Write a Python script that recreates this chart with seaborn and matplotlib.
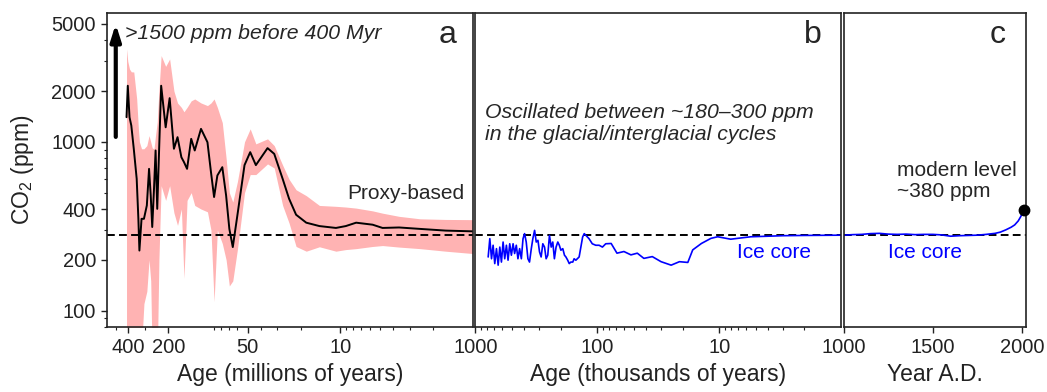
import numpy as np
import matplotlib
matplotlib.use('Agg')
import matplotlib.pyplot as plt
from matplotlib.ticker import LogLocator, NullFormatter, NullLocator
import seaborn as sns

sns.set_theme(style='ticks')
plt.rcParams['font.family'] = ['Liberation Sans', 'DejaVu Sans']
plt.rcParams['mathtext.default'] = 'regular'

# panel a: proxy-based CO2 (age in Myr), with uncertainty band
age_myr = [413, 404, 392, 380, 364, 346, 336, 330, 318, 305, 290, 279, 271, 264, 256,
           249, 242, 235, 226, 209, 195, 181, 170, 159, 152, 144, 134, 126, 113, 101,
           95, 90, 85, 78, 73, 69, 65, 60, 53, 48, 43.5, 35.5, 31.6, 27.3, 24.4,
           21.6, 18.1, 14.4, 10.8, 9.1, 7.6, 5.7, 4.8, 3.6, 2.5, 1.6, 1.0]
co2_proxy = [1400, 2150, 1400, 1250, 910, 604, 350, 227, 350, 350, 420, 692, 481, 313, 527,
             889, 401, 829, 2150, 1220, 1815, 910, 1066, 811, 759, 692, 1042, 889, 1194, 995,
             662, 471, 632, 708, 481, 305, 238, 367, 728, 869, 728, 918, 849, 604, 460,
             370, 332, 317, 309, 317, 332, 323, 309, 311, 305, 298, 295]
proxy_hi = [3550, 3000, 2700, 2600, 2595, 1800, 1200, 1000, 910, 910, 950, 1089, 1000, 920, 910,
            1100, 1309, 2000, 3245, 2800, 3097, 2000, 1700, 1600, 1507, 1600, 1750, 1795, 1700, 1640,
            1700, 1795, 1600, 1300, 800, 500, 440, 580, 1000, 1194, 973, 1042, 950, 728, 600,
            520, 480, 420, 415, 411, 405, 390, 378, 362, 350, 347, 346]
proxy_lo = [50, 50, 50, 50, 50, 50, 50, 50, 60, 110, 130, 200, 150, 50, 50,
            50, 50, 200, 550, 450, 550, 380, 320, 400, 155, 450, 500, 420, 400, 385,
            300, 113, 300, 250, 200, 140, 150, 230, 500, 640, 640, 740, 700, 420, 330,
            240, 225, 239, 225, 230, 233, 240, 243, 238, 233, 225, 218]

# panel b: ice core (age in kyr)
age_kyr = [786, 762, 738, 716, 694, 672, 651, 631, 612, 593, 575, 557, 540, 523, 507,
           491, 477, 462, 448, 434, 420, 407, 395, 383, 371, 360, 348, 338, 327, 317,
           307, 298, 289, 280, 271, 263, 255, 247, 239, 232, 225, 218, 211, 205, 199,
           192, 186, 181, 175, 170, 165, 159, 155, 150, 141, 132, 128, 124, 117, 110,
           103, 96.7, 90.8, 85.3, 77, 69, 60.5, 53, 47, 41.5, 35.4, 30, 24.8, 21.2, 18.1,
           16.5, 14, 11.7, 10.3, 8.05, 7.1, 5.5, 4, 3, 2, 1]
co2_ice_b = [208, 267, 203, 244, 190, 233, 186, 238, 194, 255, 203, 244, 199, 249, 213,
             249, 218, 244, 203, 233, 203, 267, 286, 255, 203, 194, 233, 267, 299, 255,
             261, 223, 208, 249, 238, 203, 213, 279, 238, 255, 203, 238, 255, 244, 228,
             233, 213, 208, 199, 190, 194, 194, 203, 199, 208, 273, 286, 279, 267, 249,
             244, 244, 238, 249, 250, 219, 224, 214, 219, 204, 209, 195, 186, 195, 193,
             229, 250, 268, 274, 265, 268, 274, 276, 278, 279, 280]

# panel c: ice core last millennium (year AD)
year_ad = [1000, 1050, 1100, 1150, 1200, 1250, 1300, 1350, 1400, 1450, 1500, 1550, 1600,
           1650, 1700, 1750, 1800, 1850, 1880, 1910, 1940, 1960, 1980, 1995, 2010]
co2_ice_c = [280, 282, 283, 286, 287, 284, 283, 284, 282, 283, 283, 281, 276,
             278, 279, 280, 283, 287, 292, 301, 312, 322, 340, 362, 395]
modern_year = 2010
modern_co2 = 395
preindustrial = 280

fig = plt.figure(figsize=(10.47, 3.92), dpi=100)
gs = fig.add_gridspec(1, 3, left=107/1047, right=1025.7/1047, top=1-13/392, bottom=1-327/392,
                      width_ratios=[366, 366, 182], wspace=0.009)
ax_a = fig.add_subplot(gs[0])
ax_b = fig.add_subplot(gs[1], sharey=ax_a)
ax_c = fig.add_subplot(gs[2], sharey=ax_a)

edge = '#222222'
for ax in (ax_a, ax_b, ax_c):
    for s in ax.spines.values():
        s.set_visible(True)
        s.set_linewidth(1.2)
        s.set_color(edge)
    ax.tick_params(which='major', direction='out', length=4, width=1, color=edge,
                   labelsize=14.5, labelcolor='#222222', pad=4)
    ax.tick_params(which='minor', direction='out', length=2.5, width=0.8, color=edge)
    ax.axhline(preindustrial, color='black', lw=1.4, dashes=(4, 2.2), zorder=1)

ax_a.set_yscale('log')
ax_a.set_ylim(80, 5800)

# panel a
ax_a.set_xscale('log')
ax_a.fill_between(age_myr, proxy_lo, proxy_hi, color='#ffb3b3', lw=0, zorder=0)
sns.lineplot(x=age_myr, y=co2_proxy, ax=ax_a, color='black', lw=1.4, estimator=None, sort=False)
ax_a.set_xlim(580, 1)
ax_a.set_xticks([400, 200, 50, 10], ['400', '200', '50', '10'])
ax_a.xaxis.set_minor_locator(LogLocator(base=10, subs=np.arange(2, 10)))
ax_a.xaxis.set_minor_formatter(NullFormatter())
ax_a.set_yticks([100, 200, 400, 1000, 2000, 5000], ['100', '200', '400', '1000', '2000', '5000'])
ax_a.yaxis.set_minor_locator(LogLocator(base=10, subs=np.arange(2, 10)))
ax_a.yaxis.set_minor_formatter(NullFormatter())
ax_a.set_xlabel('Age (millions of years)', fontsize=16.5, color='#222222')
ax_a.set_ylabel('CO$_2$ (ppm)', fontsize=16.5, color='#222222')
ax_a.yaxis.set_label_coords(-0.195, 0.5)
ax_a.annotate('', xy=(498, 5000), xytext=(498, 1070),
              arrowprops=dict(arrowstyle='-|>,head_width=0.22,head_length=0.7',
                              lw=3, color='black', mutation_scale=14, shrinkA=0, shrinkB=0))
ax_a.text(0.049, 0.936, '>1500 ppm before 400 Myr', transform=ax_a.transAxes,
          fontsize=15.3, style='italic', va='center', ha='left')
ax_a.text(0.931, 0.904, 'a', transform=ax_a.transAxes, fontsize=23, ha='center', va='baseline')
ax_a.text(0.977, 0.426, 'Proxy-based', transform=ax_a.transAxes, fontsize=15, ha='right', va='center')

# panel b
ax_b.set_xscale('log')
sns.lineplot(x=age_kyr, y=co2_ice_b, ax=ax_b, color='#0000ff', lw=1.2, estimator=None, sort=False)
ax_b.set_xlim(1000, 1)
ax_b.set_xticks([1000, 100, 10], ['1000', '100', '10'])
ax_b.xaxis.set_minor_locator(LogLocator(base=10, subs=np.arange(2, 10)))
ax_b.xaxis.set_minor_formatter(NullFormatter())
ax_b.tick_params(axis='y', which='both', left=False, labelleft=False)
ax_b.set_xlabel('Age (thousands of years)', fontsize=16.5, color='#222222')
ax_b.set_ylabel('')
ax_b.text(0.924, 0.904, 'b', transform=ax_b.transAxes, fontsize=23, ha='center', va='baseline')
ax_b.text(0.026, 0.682, 'Oscillated between ~180\u2013300 ppm', transform=ax_b.transAxes,
          fontsize=15.3, style='italic', va='center', ha='left')
ax_b.text(0.026, 0.612, 'in the glacial/interglacial cycles', transform=ax_b.transAxes,
          fontsize=15.3, style='italic', va='center', ha='left')
ax_b.text(0.714, 0.236, 'Ice core', transform=ax_b.transAxes, fontsize=15, color='#0000ff',
          ha='left', va='center')

# panel c
sns.lineplot(x=year_ad, y=co2_ice_c, ax=ax_c, color='#0000ff', lw=1.2, estimator=None, sort=False)
ax_c.plot([modern_year], [modern_co2], 'o', color='black', ms=7.5, clip_on=False, zorder=5)
ax_c.set_xlim(1000, 2022)
ax_c.set_xticks([1000, 1500, 2000], ['1000', '1500', '2000'])
ax_c.xaxis.set_minor_locator(NullLocator())
ax_c.tick_params(axis='y', which='both', left=False, labelleft=False)
ax_c.set_xlabel('Year A.D.', fontsize=16.5, color='#222222')
ax_c.set_ylabel('')
ax_c.text(0.848, 0.904, 'c', transform=ax_c.transAxes, fontsize=23, ha='center', va='baseline')
ax_c.text(0.294, 0.50, 'modern level', transform=ax_c.transAxes, fontsize=15, ha='left', va='center')
ax_c.text(0.294, 0.430, '~380 ppm', transform=ax_c.transAxes, fontsize=15, ha='left', va='center')
ax_c.text(0.244, 0.236, 'Ice core', transform=ax_c.transAxes, fontsize=15, color='#0000ff',
          ha='left', va='center')

fig.savefig('out.png', dpi=100)
